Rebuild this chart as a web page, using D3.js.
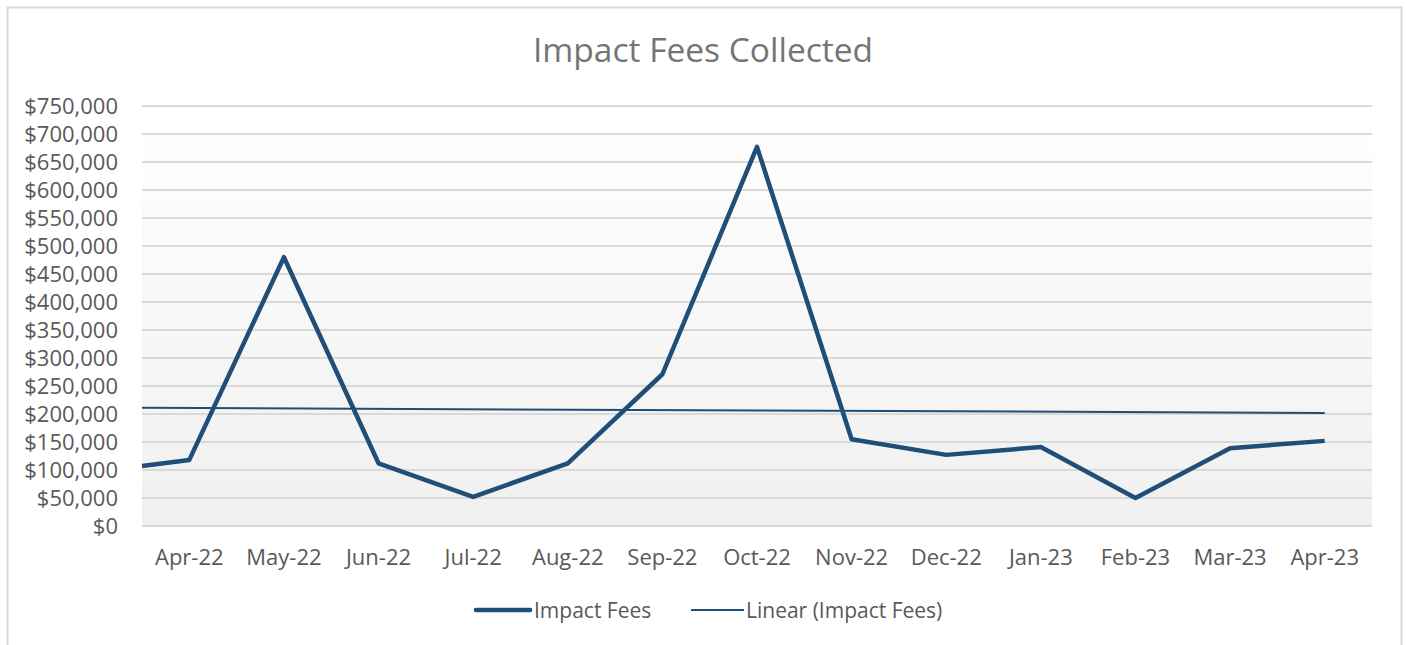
<!DOCTYPE html>
<html>
<head>
<meta charset="utf-8">
<script src="https://cdn.jsdelivr.net/npm/d3@7"></script>
<style>
  body { margin: 0; background: #fff; }
  text { font-family: "Open Sans", sans-serif; }
</style>
</head>
<body>
<div id="chart"></div>
<script>
// month labels on the axis
const months = ["Apr-22", "May-22", "Jun-22", "Jul-22", "Aug-22", "Sep-22", "Oct-22",
    "Nov-22", "Dec-22", "Jan-23", "Feb-23", "Mar-23", "Apr-23"];
// position of each point in month units (first one sits half a month before Apr-22)
const pointPos = [-0.5, 0, 1, 2, 3, 4, 5, 6, 7, 8, 9, 10, 11, 12];
const impactFees = [107000, 118000, 480000, 112000, 52000, 112000, 271000, 677000,
    155000, 127000, 141000, 50000, 139000, 152000];
// linear trend, start and end
const trendPos = [-0.5, 12];
const trendVals = [211000, 202000];
const yTicks = d3.range(0, 750001, 50000);

const W = 1407, H = 645;
const plot = { left: 142, right: 1372, top: 106, bottom: 526 };

const svg = d3.select("#chart").append("svg")
    .attr("width", W)
    .attr("height", H);

// chart frame
svg.append("rect")
    .attr("x", 7.5).attr("y", 7.5)
    .attr("width", 1394).attr("height", 660)
    .attr("fill", "#fff")
    .attr("stroke", "#d9d9d9")
    .attr("stroke-width", 2);

const grad = svg.append("defs").append("linearGradient")
    .attr("id", "bg").attr("x1", 0).attr("y1", 0).attr("x2", 0).attr("y2", 1);
grad.append("stop").attr("offset", "0%").attr("stop-color", "#ffffff");
grad.append("stop").attr("offset", "100%").attr("stop-color", "#f0f0f0");

const x = d3.scaleLinear().domain([-0.5, 12.5]).range([plot.left, plot.right]);
const y = d3.scaleLinear().domain([0, 750000]).range([plot.bottom, plot.top]);

svg.append("rect")
    .attr("x", plot.left).attr("y", plot.top)
    .attr("width", plot.right - plot.left).attr("height", plot.bottom - plot.top)
    .attr("fill", "url(#bg)");

// gridlines
svg.append("g")
    .selectAll("line")
    .data(yTicks)
    .join("line")
    .attr("x1", plot.left).attr("x2", plot.right)
    .attr("y1", d => y(d)).attr("y2", d => y(d))
    .attr("stroke", "#d9d9d9")
    .attr("stroke-width", 2);

// y axis labels
const fmt = d3.format(",");
svg.append("g")
    .selectAll("text")
    .data(yTicks)
    .join("text")
    .attr("x", 118)
    .attr("y", d => y(d))
    .attr("dy", "0.36em")
    .attr("text-anchor", "end")
    .attr("font-size", 22)
    .attr("fill", "#595959")
    .text(d => "$" + fmt(d));

// x axis labels
svg.append("g")
    .selectAll("text")
    .data(months)
    .join("text")
    .attr("x", (d, i) => x(i))
    .attr("y", 565)
    .attr("text-anchor", "middle")
    .attr("font-size", 22)
    .attr("fill", "#595959")
    .text(d => d);

// trend line
const trendLine = d3.line().x(d => x(d[0])).y(d => y(d[1]));
svg.append("path")
    .attr("d", trendLine(d3.zip(trendPos, trendVals)))
    .attr("fill", "none")
    .attr("stroke", "#1f4e79")
    .attr("stroke-width", 2);

// main series
const line = d3.line().x(d => x(d[0])).y(d => y(d[1]));
svg.append("path")
    .attr("d", line(d3.zip(pointPos, impactFees)))
    .attr("fill", "none")
    .attr("stroke", "#1f4e79")
    .attr("stroke-width", 4.5)
    .attr("stroke-linejoin", "round");

// title
svg.append("text")
    .attr("x", 703)
    .attr("y", 62)
    .attr("text-anchor", "middle")
    .attr("font-size", 33.5)
    .attr("fill", "#757575")
    .text("Impact Fees Collected");

// legend
const legend = svg.append("g");
legend.append("line")
    .attr("x1", 476).attr("x2", 530).attr("y1", 610).attr("y2", 610)
    .attr("stroke", "#1f4e79").attr("stroke-width", 4.5).attr("stroke-linecap", "round");
legend.append("text")
    .attr("x", 534).attr("y", 610).attr("dy", "0.36em")
    .attr("font-size", 21).attr("fill", "#595959")
    .text("Impact Fees");
legend.append("line")
    .attr("x1", 691).attr("x2", 744).attr("y1", 610).attr("y2", 610)
    .attr("stroke", "#1f4e79").attr("stroke-width", 2);
legend.append("text")
    .attr("x", 746).attr("y", 610).attr("dy", "0.36em")
    .attr("font-size", 21).attr("fill", "#595959")
    .text("Linear (Impact Fees)");
</script>
</body>
</html>
